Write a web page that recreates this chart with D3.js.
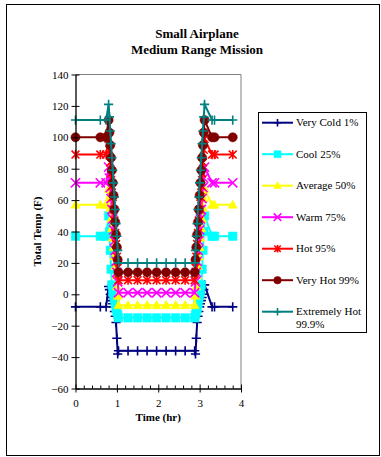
<!DOCTYPE html>
<html>
<head>
<meta charset="utf-8">
<script src="https://cdn.jsdelivr.net/npm/d3@7"></script>
<style>
  body { margin: 0; background: #fff; }
  text { font-family: "Liberation Serif", "Times New Roman", serif; fill: #000; }
</style>
</head>
<body>
<div id="chart"></div>
<script>

// Mission time (hr), shared by every series
var times = [0, 0.6, 0.74, 0.8, 0.82, 0.84, 0.86, 0.88, 0.9, 0.92, 0.94, 0.96, 0.98, 1.0, 1.02,
  1.04, 1.27, 1.5, 1.73, 1.96, 2.19, 2.42, 2.65, 2.88,
  2.9, 2.92, 2.94, 2.96, 2.98, 3.0, 3.02, 3.04, 3.06, 3.08, 3.1, 3.12, 3.3, 3.36, 3.8];

// Total temperature (F) for each climate percentile
var veryCold = [-8, -8, -8, 5, 3, 0, -2, -4, -6, -8, -11, -14, -18, -28, -38,
  -36, -36, -36, -36, -36, -36, -36, -36, -36,
  -38, -28, -18, -14, -11, -8, -6, -4, -2, 0, 3, 6, -8, -8, -8];
var cool = [37, 37, 37, 50, 40, 28, 16, 6, 2, 0, -3, -6, -9, -11, -13,
  -15, -15, -15, -15, -15, -15, -15, -15, -15,
  -13, -11, -9, -6, -3, 0, 2, 6, 16, 28, 40, 50, 37, 37, 37];
var average = [57, 57, 57, 67, 61, 55, 48, 42, 36, 30, 24, 18, 12, 5, -1,
  -7, -7, -7, -7, -7, -7, -7, -7, -7,
  -1, 5, 12, 18, 24, 30, 36, 42, 48, 55, 61, 67, 57, 57, 57];
var warm = [71, 71, 71, 81, 74, 68, 61, 54, 48, 41, 34, 28, 21, 14, 8,
  1, 1, 1, 1, 1, 1, 1, 1, 1,
  8, 14, 21, 28, 34, 41, 48, 54, 61, 68, 74, 81, 71, 71, 71];
var hot = [89, 89, 89, 99, 92, 84, 77, 69, 62, 54, 47, 39, 32, 24, 17,
  9, 9, 9, 9, 9, 9, 9, 9, 9,
  17, 24, 32, 39, 47, 54, 62, 69, 77, 84, 92, 99, 89, 89, 89];
var veryHot = [100, 100, 100, 111, 103, 95, 87, 79, 71, 63, 54, 46, 38, 30, 22,
  14, 14, 14, 14, 14, 14, 14, 14, 14,
  22, 30, 38, 46, 54, 63, 71, 79, 87, 95, 103, 111, 100, 100, 100];
var extremelyHot = [111, 111, 111, 121, 113, 104, 96, 87, 79, 71, 62, 54, 45, 37, 28,
  20, 20, 20, 20, 20, 20, 20, 20, 20,
  28, 37, 45, 54, 62, 71, 79, 87, 96, 104, 113, 121, 111, 111, 111];

var seriesNames = ["Very Cold 1%", "Cool 25%", "Average 50%", "Warm 75%", "Hot 95%", "Very Hot 99%", "Extremely Hot 99.9%"];
var seriesValues = [veryCold, cool, average, warm, hot, veryHot, extremelyHot];

// Tick labels
var yTicks = [-60, -40, -20, 0, 20, 40, 60, 80, 100, 120, 140];
var xTicks = [0, 1, 2, 3, 4];
var xMinorTicks = [0.2, 0.4, 0.6, 0.8, 1.2, 1.4, 1.6, 1.8, 2.2, 2.4, 2.6, 2.8, 3.2, 3.4, 3.6, 3.8];

// Look of each series
var colors = ["#000080", "#00FFFF", "#FFFF00", "#FF00FF", "#FF0000", "#800000", "#008080"];
var markers = ["plus", "square", "triangle", "cross", "star", "circle", "plus"];

function markerPath(type, r) {
  if (type == "plus") return "M" + (-r) + ",0H" + r + "M0," + (-r) + "V" + r;
  if (type == "cross") return "M" + (-r) + "," + (-r) + "L" + r + "," + r + "M" + (-r) + "," + r + "L" + r + "," + (-r);
  if (type == "star") return markerPath("cross", r * 0.85) + "M0," + (-r) + "V" + r;
  if (type == "square") return d3.symbol(d3.symbolSquare, (2 * r) * (2 * r) * 0.85)();
  if (type == "triangle") return "M0," + (-r * 1.05) + "L" + r + "," + (r * 0.75) + "L" + (-r) + "," + (r * 0.75) + "Z";
  return d3.symbol(d3.symbolCircle, Math.PI * r * r)();
}
function isFilled(type) { return type == "square" || type == "triangle" || type == "circle"; }

function drawMarker(sel, type, color, r) {
  sel.attr("d", markerPath(type, r))
    .attr("fill", isFilled(type) ? color : "none")
    .attr("stroke", color)
    .attr("stroke-width", isFilled(type) ? 0.5 : 1.6);
}

var svg = d3.select("#chart").append("svg")
  .attr("width", 381)
  .attr("height", 457);

// Outer frame
svg.append("rect")
  .attr("x", 6.5).attr("y", 4.5)
  .attr("width", 373).attr("height", 451)
  .attr("fill", "none").attr("stroke", "#000").attr("stroke-width", 1);

// Title
svg.append("text").attr("x", 197).attr("y", 37.5)
  .attr("text-anchor", "middle").style("font-size", "13px").style("font-weight", "bold")
  .text("Small Airplane");
svg.append("text").attr("x", 197).attr("y", 54)
  .attr("text-anchor", "middle").style("font-size", "13px").style("font-weight", "bold")
  .text("Medium Range Mission");

// Scales
var xScale = d3.scaleLinear().domain([0, 4]).range([75.5, 241]);
var yScale = d3.scaleLinear().domain([-60, 140]).range([388.5, 74.5]);

// Plot area border (top and right)
svg.append("path")
  .attr("d", "M" + xScale(0) + "," + yScale(140) + "H" + xScale(4) + "V" + yScale(-60))
  .attr("fill", "none").attr("stroke", "#808080").attr("stroke-width", 1);

// Series lines and markers
var line = d3.line()
  .x(function(d) { return xScale(d.t); })
  .y(function(d) { return yScale(d.v); });

seriesValues.forEach(function(vals, s) {
  var pts = times.map(function(t, i) { return { t: t, v: vals[i] }; });
  var g = svg.append("g");
  g.append("path").datum(pts)
    .attr("d", line)
    .attr("fill", "none")
    .attr("stroke", colors[s])
    .attr("stroke-width", 2);
  g.selectAll(".mk").data(pts).enter().append("path")
    .attr("transform", function(d) { return "translate(" + xScale(d.t) + "," + yScale(d.v) + ")"; })
    .call(drawMarker, markers[s], colors[s], 4.6);
});

// Y axis
svg.append("g")
  .attr("transform", "translate(" + xScale(0) + ",0)")
  .call(d3.axisLeft(yScale).tickValues(yTicks).tickSize(4).tickSizeOuter(0).tickPadding(3))
  .call(function(g) {
    g.select(".domain").attr("stroke", "#000").attr("stroke-width", 1.3);
    g.selectAll(".tick line").attr("x1", 4).attr("stroke", "#000");
    g.selectAll(".tick text").style("font-size", "11px").style("font-family", "'Liberation Serif', serif");
  });

// X axis, minor ticks point up into the plot
svg.append("g")
  .attr("transform", "translate(0," + yScale(-60) + ")")
  .call(d3.axisBottom(xScale).tickValues(xMinorTicks).tickSize(-3).tickSizeOuter(0).tickFormat(""))
  .call(function(g) { g.select(".domain").remove(); g.selectAll(".tick line").attr("stroke", "#000"); });

svg.append("g")
  .attr("transform", "translate(0," + yScale(-60) + ")")
  .call(d3.axisBottom(xScale).tickValues(xTicks).tickFormat(d3.format("d")).tickSize(4).tickSizeOuter(0).tickPadding(7))
  .call(function(g) {
    g.select(".domain").attr("stroke", "#000").attr("stroke-width", 1.3);
    g.selectAll(".tick line").attr("y1", -4).attr("stroke", "#000");
    g.selectAll(".tick text").style("font-size", "11px").style("font-family", "'Liberation Serif', serif");
  });

// Axis titles
svg.append("text")
  .attr("transform", "translate(41," + ((yScale(140) + yScale(-60)) / 2) + ") rotate(-90)")
  .attr("text-anchor", "middle").style("font-size", "11px").style("font-weight", "bold")
  .text("Total Temp (F)");
svg.append("text")
  .attr("x", (xScale(0) + xScale(4)) / 2).attr("y", 421)
  .attr("text-anchor", "middle").style("font-size", "11px").style("font-weight", "bold")
  .text("Time (hr)");

// Legend
var legend = svg.append("g");
legend.append("rect")
  .attr("x", 258.5).attr("y", 112.5).attr("width", 108).attr("height", 220)
  .attr("fill", "#fff").attr("stroke", "#000").attr("stroke-width", 1);

seriesNames.forEach(function(name, s) {
  var ly = 122.7 + s * 31.5;
  legend.append("line")
    .attr("x1", 262).attr("x2", 293).attr("y1", ly).attr("y2", ly)
    .attr("stroke", colors[s]).attr("stroke-width", 2);
  legend.append("path")
    .attr("transform", "translate(277.5," + ly + ")")
    .call(drawMarker, markers[s], colors[s], 3.8);
  if (name == "Extremely Hot 99.9%") {
    legend.append("text").attr("x", 296).attr("y", ly + 3.5).style("font-size", "11px").text("Extremely Hot");
    legend.append("text").attr("x", 296).attr("y", ly + 16).style("font-size", "11px").text("99.9%");
  } else {
    legend.append("text").attr("x", 296).attr("y", ly + 3.5).style("font-size", "11px").text(name);
  }
});

</script>
</body>
</html>
